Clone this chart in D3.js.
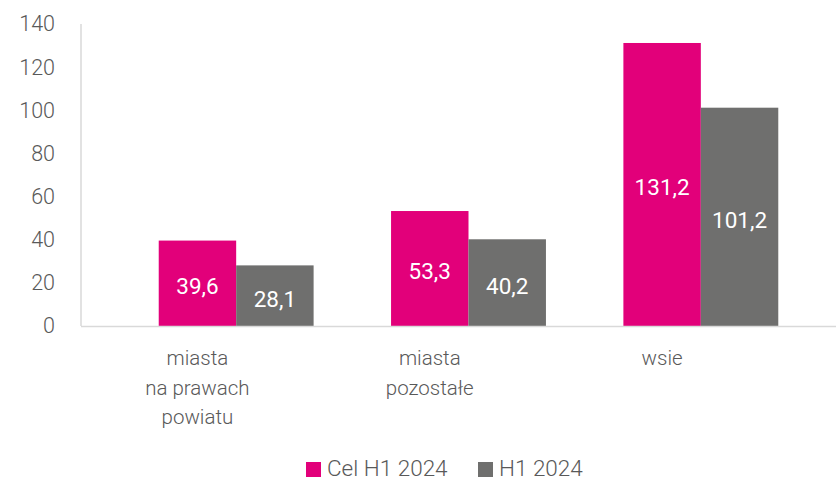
<!DOCTYPE html>
<html>
<head>
<meta charset="utf-8">
<script src="https://cdn.jsdelivr.net/npm/d3@7"></script>
<style>
  body { margin: 0; background: #fff; }
  svg text { font-family: "Roboto", "Open Sans", sans-serif; font-weight: 300; }
</style>
</head>
<body>
<div id="chart"></div>
<script>
var categories = [['miasta', 'na prawach', 'powiatu'], ['miasta', 'pozostałe'], ['wsie']];
var series = ['Cel H1 2024', 'H1 2024'];
var cel_values = [39.6, 53.3, 131.2];
var h1_values = [28.1, 40.2, 101.2];
var y_ticks = [0, 20, 40, 60, 80, 100, 120, 140];

var colors = {'Cel H1 2024': '#e2007a', 'H1 2024': '#6f6f6e'};

var width = 838, height = 481;
var svg = d3.select('#chart').append('svg')
    .attr('width', width)
    .attr('height', height);

var cat_keys = categories.map(function(c) { return c.join(' '); });
var x = d3.scaleBand().domain(cat_keys).range([120, 817])
    .paddingInner(1/3).paddingOuter(1/6);
var x1 = d3.scaleBand().domain(series).range([0, x.bandwidth()]);
var y = d3.scaleLinear().domain([0, 140]).range([326, 24]);

// axis lines
svg.append('line')
    .attr('x1', 81).attr('x2', 81)
    .attr('y1', 24).attr('y2', 326)
    .attr('stroke', '#d9d9d9').attr('stroke-width', 1.5);

var y_axis = svg.append('g')
    .attr('transform', 'translate(55,0)')
    .call(d3.axisLeft(y).tickValues(y_ticks).tickSize(0).tickPadding(0));
y_axis.select('.domain').remove();
y_axis.selectAll('text')
    .attr('fill', '#595959')
    .style('font-size', '21.5px')
    .style('font-family', '"Roboto", sans-serif')
    .style('font-weight', 300);

var data = [];
cat_keys.forEach(function(k, i) {
    data.push({cat: k, s: 'Cel H1 2024', v: cel_values[i]});
    data.push({cat: k, s: 'H1 2024', v: h1_values[i]});
});

svg.selectAll('rect.bar')
    .data(data)
    .enter().append('rect')
    .attr('class', 'bar')
    .attr('x', function(d) { return x(d.cat) + x1(d.s); })
    .attr('width', x1.bandwidth())
    .attr('y', function(d) { return y(d.v); })
    .attr('height', function(d) { return y(0) - y(d.v); })
    .attr('fill', function(d) { return colors[d.s]; });

svg.append('line')
    .attr('x1', 81).attr('x2', 836)
    .attr('y1', 326.5).attr('y2', 326.5)
    .attr('stroke', '#d9d9d9').attr('stroke-width', 1.5);

svg.selectAll('text.val')
    .data(data)
    .enter().append('text')
    .attr('class', 'val')
    .attr('x', function(d) { return x(d.cat) + x1(d.s) + x1.bandwidth()/2; })
    .attr('y', function(d) { return (y(d.v) + y(0))/2 + 3; })
    .attr('dy', '0.35em')
    .attr('text-anchor', 'middle')
    .attr('fill', '#ffffff')
    .style('font-size', '22.5px')
    .style('font-weight', 400)
    .text(function(d) { return String(d.v.toFixed(1)).replace('.', ','); });

// category labels
categories.forEach(function(lines, i) {
    var cx = x(cat_keys[i]) + x1('Cel H1 2024') + x1.bandwidth()/2;
    var t = svg.append('text')
        .attr('text-anchor', 'middle')
        .attr('fill', '#595959')
        .style('font-size', '20.5px');
    lines.forEach(function(l, j) {
        t.append('tspan')
            .attr('x', cx)
            .attr('y', 358 + j*29.5)
            .attr('dy', '0.35em')
            .text(l);
    });
});

// legend
var legend_x = [306, 478];
series.forEach(function(s, i) {
    svg.append('rect')
        .attr('x', legend_x[i]).attr('y', 462)
        .attr('width', 15).attr('height', 15)
        .attr('fill', colors[s]);
    svg.append('text')
        .attr('x', legend_x[i] + 21)
        .attr('y', 468)
        .attr('dy', '0.35em')
        .attr('fill', '#595959')
        .style('font-size', '22.5px')
        .text(s);
});
</script>
</body>
</html>
